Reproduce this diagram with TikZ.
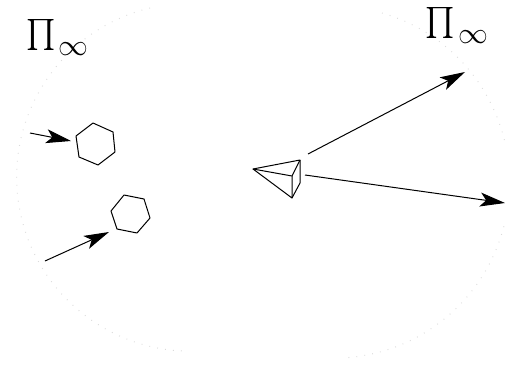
\documentclass[tikz,border=0pt]{standalone}
\usepackage{graphicx}
\usetikzlibrary{arrows.meta}
\newcommand{\skylabel}{\raisebox{7.75pt}{\scalebox{3.1}{$\textstyle\prod$}}\kern3.5pt\raisebox{-5pt}{\scalebox{1.2}{\fontsize{24.88}{25}\selectfont$\infty$}}}
\tikzset{
  ray/.style={line width=1pt,-{Stealth[length=25pt,width=14pt,inset=6pt]}},
  edge/.style={line width=1pt,line join=round},
  sky/.style={line width=1pt,dash pattern=on 0.8pt off 7.2pt,black!14},
  lbl/.style={inner sep=0pt,anchor=base west}
}
\begin{document}
\begin{tikzpicture}[x=1pt,y=-1pt]
\useasboundingbox (0,0) rectangle (505,364);
\draw[sky] (150,8) arc[start angle=256.5,end angle=92,radius=174];
\draw[sky] (382,13) arc[start angle=-74,end angle=86,radius=176];
\node[lbl] (p1) at (26,50) {\skylabel};
\node[lbl] (p2) at (425.5,38) {\skylabel};
% hexagons
\coordinate (h1a) at (76,136);\coordinate (h1b) at (93,123);\coordinate (h1c) at (113,132);
\coordinate (h1d) at (115,152);\coordinate (h1e) at (98,165);\coordinate (h1f) at (79,157);
\draw[edge] (h1a)--(h1b)--(h1c)--(h1d)--(h1e)--(h1f)--cycle;
\coordinate (h2a) at (111,211);\coordinate (h2b) at (124,195);\coordinate (h2c) at (144,199);
\coordinate (h2d) at (150,218);\coordinate (h2e) at (137,233);\coordinate (h2f) at (117,229);
\draw[edge] (h2a)--(h2b)--(h2c)--(h2d)--(h2e)--(h2f)--cycle;
% arrows
\coordinate (a1s) at (30,133);\coordinate (a1e) at (71,141);
\draw[ray] (a1s)--(a1e);
\coordinate (a2s) at (45,261);\coordinate (a2e) at (109,232);
\draw[ray] (a2s)--(a2e);
\coordinate (a3s) at (308,154);\coordinate (a3e) at (465,72);
\draw[ray] (a3s)--(a3e);
\coordinate (a4s) at (305,175);\coordinate (a4e) at (505,203);
\draw[ray] (a4s)--(a4e);
% pyramid
\coordinate (v) at (253,169);\coordinate (t) at (300,160);\coordinate (m) at (292,176);
\coordinate (b) at (292,198);\coordinate (r) at (300,183);
\draw[edge] (v)--(t)--(m)--cycle;
\draw[edge] (v)--(b)--(m);
\draw[edge] (b)--(r)--(t);
\end{tikzpicture}
\end{document}
